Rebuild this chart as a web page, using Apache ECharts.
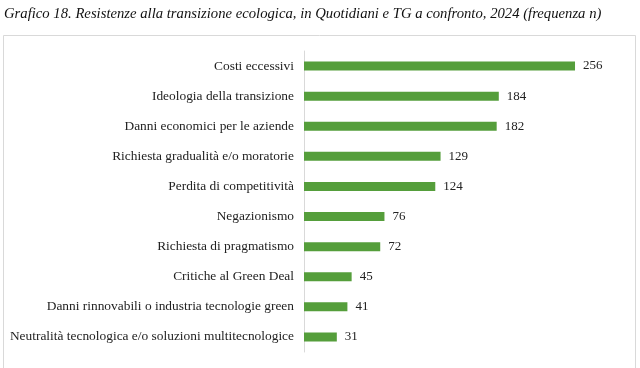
<!DOCTYPE html>
<html>
<head>
<meta charset="utf-8">
<script src="https://cdn.jsdelivr.net/npm/echarts@6/dist/echarts.min.js"></script>
<style>
html,body{margin:0;padding:0;background:#fff;}
#c{width:640px;height:368px;}
</style>
</head>
<body>
<div id="c"></div>
<script>
const titleText = "Grafico 18. Resistenze alla transizione ecologica, in Quotidiani e TG a confronto, 2024 (frequenza n)";
const categories = [
  "Costi eccessivi",
  "Ideologia della transizione",
  "Danni economici per le aziende",
  "Richiesta gradualità e/o moratorie",
  "Perdita di competitività",
  "Negazionismo",
  "Richiesta di pragmatismo",
  "Critiche al Green Deal",
  "Danni rinnovabili o industria tecnologie green",
  "Neutralità tecnologica e/o soluzioni multitecnologice"
];
const values = [256, 184, 182, 129, 124, 76, 72, 45, 41, 31];

const chart = echarts.init(document.getElementById('c'), null, {renderer: 'canvas'});
const serif = '"Liberation Serif", "Times New Roman", serif';
chart.setOption({
  animation: false,
  backgroundColor: '#fff',
  title: {
    text: titleText,
    left: 4, top: 7, padding: 0,
    textStyle: {fontFamily: serif, fontStyle: 'italic', fontWeight: 'normal', fontSize: 14.7, color: '#111'}
  },
  graphic: [{
    type: 'rect',
    shape: {x: 3.5, y: 35.5, width: 632, height: 340},
    style: {fill: 'none', stroke: '#d9d9d9', lineWidth: 1},
    silent: true, z: -1
  }],
  grid: {left: 304, right: 18.4, top: 51, bottom: 16, containLabel: false},
  xAxis: {
    type: 'value', min: 0, max: 300, interval: 50,
    show: false
  },
  yAxis: {
    type: 'category',
    data: categories,
    inverse: true,
    axisLine: {show: true, lineStyle: {color: '#d9d9d9', width: 1}},
    axisTick: {show: false},
    axisLabel: {fontFamily: serif, fontSize: 13.4, color: '#222', margin: 10}
  },
  series: [{
    type: 'bar',
    data: values,
    barWidth: 9,
    itemStyle: {color: '#559e3b'},
    label: {show: true, position: 'right', distance: 8, fontFamily: serif, fontSize: 13, color: '#222'}
  }]
});
</script>
</body>
</html>
